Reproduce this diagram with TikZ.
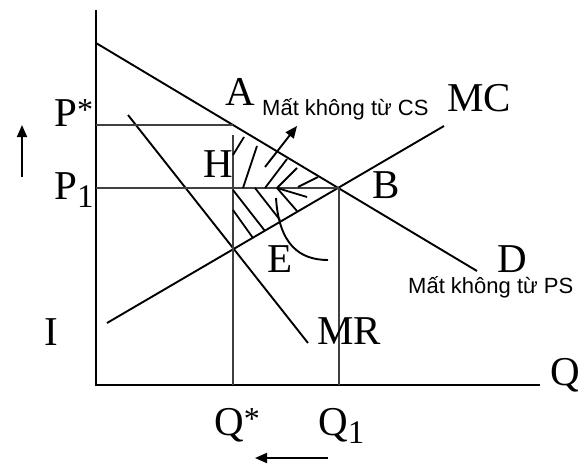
\documentclass[tikz,border=0pt]{standalone}
\usepackage{fontspec}
\setmainfont{Liberation Serif}
\newfontfamily\viet{Liberation Sans}
\usetikzlibrary{arrows.meta}
\tikzset{
  axisline/.style={line width=2.2pt, line cap=rect},
  curveline/.style={line width=1.9pt},
  guideline/.style={line width=1.3pt, black!75},
  hatchline/.style={line width=1.8pt},
  arrowline/.style={line width=1.9pt, -{Triangle[length=12pt,width=10pt]}},
  lbl/.style={anchor=base west, inner sep=0pt, font=\fontsize{41}{41}\selectfont},
  note/.style={anchor=base west, inner sep=0pt, font=\viet\fontsize{22}{26}\selectfont},
}
\newcommand{\mysub}[1]{\raisebox{-8pt}{\fontsize{33}{33}\selectfont #1}}
\newcommand{\mystar}{\raisebox{6pt}{\fontsize{32}{32}\selectfont *}}
\begin{document}
\begin{tikzpicture}[x=1pt,y=-1pt]
\useasboundingbox (0,0) rectangle (578,466);
% key points
\coordinate (Ytop) at (96,11);
\coordinate (O) at (96,385);
\coordinate (Xend) at (539,385);
\coordinate (D0) at (96,43);
\coordinate (D1) at (477,271);
\coordinate (MC0) at (107,323);
\coordinate (MC1) at (444,126);
\coordinate (MR0) at (128,115);
\coordinate (MR1) at (308,343);
\coordinate (Ps) at (96,125);
\coordinate (Apt) at (233,125);
\coordinate (P1) at (96,188);
\coordinate (Bpt) at (339,188);
\coordinate (Qstop) at (233,135);
\coordinate (Qs) at (233,385);
\coordinate (Q1) at (339,385);
% axes
\draw[axisline] (Ytop) -- (O) -- (Xend);
% curves
\draw[curveline] (D0) -- (D1);
\draw[curveline] (MC0) -- (MC1);
\draw[curveline] (MR0) -- (MR1);
% guides
\draw[guideline] (Ps) -- (Apt);
\draw[guideline] (P1) -- (Bpt);
\draw[guideline] (Qstop) -- (Qs);
\draw[guideline] (Bpt) -- (Q1);
% hatching upper triangle
\draw[hatchline] (233,155) -- (244,137);
\draw[hatchline] (243,188) -- (257,146);
\draw[hatchline] (265,188) -- (287,159);
\draw[hatchline] (277,188) -- (297,168);
\draw[hatchline] (298,187) -- (318,177);
% hatching lower triangle
\draw[hatchline] (233,210) -- (253,238);
\draw[hatchline] (233,190) -- (265,231);
\draw[hatchline] (255,188) -- (280,220);
\draw[hatchline] (277,188) -- (297,211);
\draw[hatchline] (277,188) -- (307,197);
% arrows
\coordinate (ArA) at (265,167);
\coordinate (ArB) at (297,126);
\draw[arrowline] (ArA) -- (ArB);
\coordinate (UpA) at (22,177);
\coordinate (UpB) at (22,125);
\draw[arrowline] (UpA) -- (UpB);
\coordinate (LfA) at (328,458);
\coordinate (LfB) at (255,458);
\draw[arrowline] (LfA) -- (LfB);
% PS curve
\coordinate (Cv0) at (276,198);
\coordinate (Cv1) at (328,260);
\draw[curveline] (Cv0) .. controls (279,245) and (300,260) .. (Cv1);
% labels
\node[lbl] (lPs) at (54,126) {P\mystar};
\node[lbl] (lP1) at (54,199) {P\mysub{1}};
\node[lbl] (lA) at (225,105) {A};
\node[lbl] (lH) at (203,177) {H};
\node[lbl] (lB) at (372,198) {B};
\node[lbl] (lE) at (267,272) {E};
\node[lbl] (lD) at (497,272) {D};
\node[lbl] (lMC) at (447,111) {MC};
\node[lbl] (lMR) at (317,344) {MR};
\node[lbl] (lI) at (44,345) {I};
\node[lbl] (lQs) at (214,435) {Q\mystar};
\node[lbl] (lQ1) at (318,435) {Q\mysub{1}};
\node[lbl] (lQ) at (550,385) {Q};
\node[note] (nCS) at (262,115) {Mất không từ CS};
\node[note] (nPS) at (408,293) {Mất không từ PS};
\end{tikzpicture}
\end{document}
